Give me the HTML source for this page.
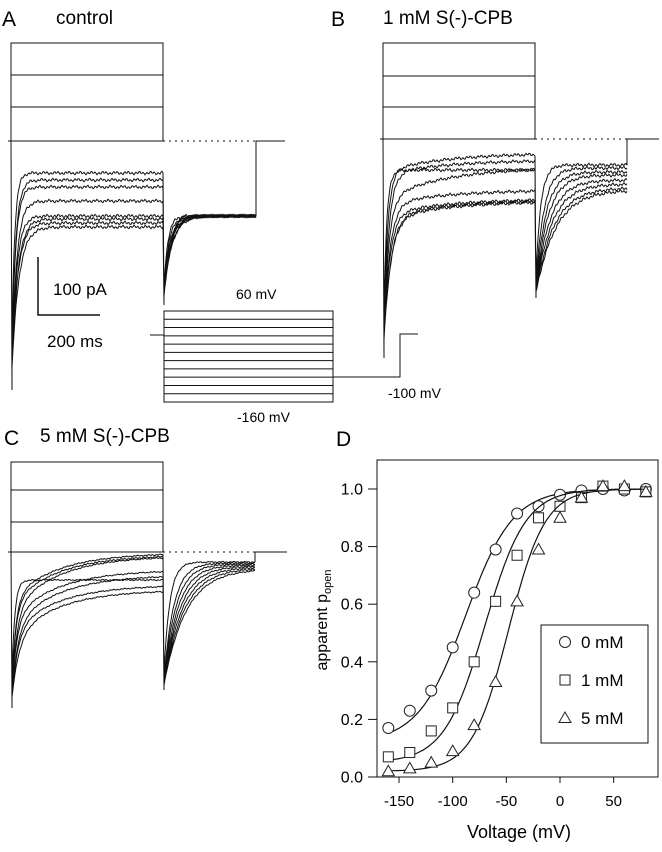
<!DOCTYPE html>
<html><head><meta charset="utf-8"><style>
body{margin:0;background:#fff;}
svg{display:block;font-family:"Liberation Sans",sans-serif;}
</style></head><body>
<svg id="fig" width="662" height="852" viewBox="0 0 662 852">
<g id="traces" fill="none" stroke="#111" stroke-width="1"></g>
<text x="2" y="26" font-size="21">A</text>
<text x="56" y="24" font-size="19">control</text>
<text x="331" y="26" font-size="21">B</text>
<text x="383" y="24" font-size="19">1 mM S(-)-CPB</text>
<text x="4" y="445" font-size="21">C</text>
<text x="40" y="442" font-size="19">5 mM S(-)-CPB</text>
<text x="336" y="446" font-size="21">D</text>
<g>
<path d="M38,257 V315 H100" fill="none" stroke="#111" stroke-width="1.5"/>
<text x="53" y="295" font-size="17">100 pA</text>
<text x="47" y="347" font-size="17">200 ms</text>
</g>
<g id="protocol" stroke="#111" fill="none" stroke-width="1"></g>
<text x="236" y="299" font-size="14">60 mV</text>
<text x="237" y="422" font-size="14">-160 mV</text>
<text x="388" y="398" font-size="14">-100 mV</text>
<g id="chartD"></g>
</svg>
<script>
var voltages = [-160,-140,-120,-100,-80,-60,-40,-20,0,20,40,60,80];
var popen0 = [0.17,0.23,0.30,0.45,0.64,0.79,0.915,0.94,0.98,0.995,1.0,0.995,1.0];
var popen1 = [0.07,0.085,0.16,0.24,0.40,0.61,0.77,0.90,0.94,0.97,1.01,1.0,0.99];
var popen5 = [0.02,0.03,0.05,0.09,0.18,0.33,0.61,0.79,0.90,0.97,1.01,1.01,0.99];
var fitMid = [-88,-70,-48];
var fitSlope = [22,19,17];
var fitMin = [0.12,0.05,0.02];
var xTicks = [-150,-100,-50,0,50];
var yTicks = [0,0.2,0.4,0.6,0.8,1.0];
var legendLabels = ["0 mM","1 mM","5 mM"];

var NS="http://www.w3.org/2000/svg";
function mk(tag,attrs,parent){var e=document.createElementNS(NS,tag);for(var k in attrs)e.setAttribute(k,attrs[k]);if(parent)parent.appendChild(e);return e;}
function xS(v){return 560+v*1.073;}
function yS(p){return 777-p*288;}

var D=document.getElementById('chartD');
var frame=mk('rect',{x:377,y:460,width:281,height:317,fill:'none',stroke:'#111','stroke-width':1},D);


mk('line',{x1:370,y1:777,x2:658,y2:777,stroke:'#111'},D);
xTicks.forEach(function(t){
  var l=mk('line',{x1:xS(t),y1:777,x2:xS(t),y2:783,stroke:'#111'},D);
  
  
  var tx=mk('text',{x:xS(t),y:806,'font-size':15,'text-anchor':'middle'},D);tx.textContent=t;
  
  
});
yTicks.forEach(function(t){
  var l=mk('line',{x1:368,y1:yS(t),x2:377,y2:yS(t),stroke:'#111'},D);
  
  
  var tx=mk('text',{x:363,y:yS(t)+5.5,'font-size':16,'text-anchor':'end'},D);tx.textContent=t.toFixed(1);
  
  
});
var xt=mk('text',{x:519,y:838,'font-size':18,'text-anchor':'middle'},D);xt.textContent='Voltage (mV)';


var yt=mk('text',{x:0,y:0,'font-size':16,'text-anchor':'middle',transform:'translate(327,620) rotate(-90)'},D);
yt.innerHTML='apparent p<tspan font-size="11" dy="4">open</tspan>';



var series=[popen0,popen1,popen5];
function marker(kind,cx,cy,g){
  var a={fill:'#fff',stroke:'#222','stroke-width':1};
  if(kind===0){a.cx=cx;a.cy=cy;a.r=5.5;return mk('circle',a,g);}
  if(kind===1){a.x=cx-5;a.y=cy-5;a.width=10;a.height=10;return mk('rect',a,g);}
  a.points=(cx)+','+(cy-6)+' '+(cx-6)+','+(cy+4.5)+' '+(cx+6)+','+(cy+4.5);return mk('polygon',a,g);
}
series.forEach(function(s,i){
  var d='';
  for(var v=-160;v<=80;v+=2){var p=fitMin[i]+(1-fitMin[i])/(1+Math.exp(-(v-fitMid[i])/fitSlope[i]));d+=(v===-160?'M':'L')+xS(v).toFixed(1)+','+yS(p).toFixed(1);}
  var fl=mk('path',{d:d,fill:'none',stroke:'#111','stroke-width':1.2},D);
  
  
  s.forEach(function(p,j){
    var m=marker(i,xS(voltages[j]),yS(p),D);
    
    
  });
});
var lg=mk('g',{},D);


mk('rect',{x:541,y:625,width:107,height:118,fill:'#fff',stroke:'#111'},lg);
legendLabels.forEach(function(t,i){
  var y=642+i*38;
  var m=marker(i,565,y,lg);
  
  
  var tx=mk('text',{x:581,y:y+6,'font-size':17},lg);tx.textContent=t;
  
  
});

var P=document.getElementById('protocol');
mk('rect',{x:164,y:311,width:169,height:91},P);
for(var i=1;i<12;i++){mk('line',{x1:164,y1:311+i*91/11,x2:333,y2:311+i*91/11},P);}
mk('path',{d:'M150,335 H164 M333,377 H400 V334 H418'},P);

var T=document.getElementById('traces');
function jit(x,k){return 0.9*Math.sin(x*1.7+k*3.1)+0.6*Math.sin(x*0.53+k*1.3);}
function panel(o,name){
  var g=mk('g',{},T);
  
  
  var d='';
  o.out.forEach(function(y,k){d+='M'+o.x0+','+(o.zero)+' V'+y+' H'+o.x1+' V'+o.zero+' ';});
  d+='M'+(o.x0-3)+','+o.zero+' H'+o.x1+' ';
  o.inS.forEach(function(s,k){
    var e=o.inE[k];
    var p='M'+o.x0+','+o.zero+' L'+(o.x0+1)+','+o.spike;
    for(var x=o.x0+1;x<=o.x1;x+=1){
      var y=e+(s-e)*Math.exp(-(x-o.x0)/o.slow)+(o.spike-s)*Math.exp(-(x-o.x0)/o.fast[k]);
      p+=' L'+x+','+(y+jit(x,k)*o.noise).toFixed(1);
    }
    var te=o.tailE[k];
    p+=' L'+(o.x1+1)+','+o.tspike;
    for(var x=o.x1+1;x<=o.xs;x+=1){
      var y=te+(o.tspike-te)*Math.exp(-(x-o.x1)/o.tau[k]);
      p+=' L'+x+','+(y+jit(x,k+5)*o.noise).toFixed(1);
    }
    d+=p+' ';
  });
  d+='M'+o.xs+','+o.tailE[0]+' V'+o.zero+' H'+o.xe;
  mk('path',{d:d,'stroke-width':1},g);
  mk('line',{x1:o.x1,y1:o.zero,x2:o.xs,y2:o.zero,'stroke-dasharray':'2,4',stroke:'#111'},g);
}
panel({x0:11,x1:163,xs:256,xe:285,zero:141,out:[43,75,107],spike:390,tspike:305,
  inS:[173,180,187,201,216,219,223,227],inE:[173,180,187,201,216,219,223,227],slow:40,
  fast:[3,4,4,5,5,6,6,7],tailE:[216,216,216,216,216,216,216,216],tau:[4,5,6,6,7,7,8,8],noise:1.2},'panel-a-traces');
panel({x0:383,x1:535,xs:627,xe:659,zero:139,out:[43,76,107],spike:358,tspike:298,
  inS:[170,172,175,200,205,215,218,220],inE:[170,153,160,167,190,199,200,201],slow:60,
  fast:[3,4,5,5,6,6,7,7],tailE:[165,168,172,175,180,184,188,190],tau:[5,8,10,12,14,16,18,20],noise:1.2},'panel-b-traces');
panel({x0:11,x1:163,xs:255,xe:287,zero:552,out:[462,490,522],spike:708,tspike:690,
  inS:[580,600,605,612,620,628,633,640],inE:[580,553,555,556,570,575,585,590],slow:45,
  fast:[3,4,4,5,5,6,6,7],tailE:[562,563,564,565,566,567,568,569],tau:[6,10,12,14,16,18,20,22],noise:0.5},'panel-c-traces');
</script>
</body></html>
